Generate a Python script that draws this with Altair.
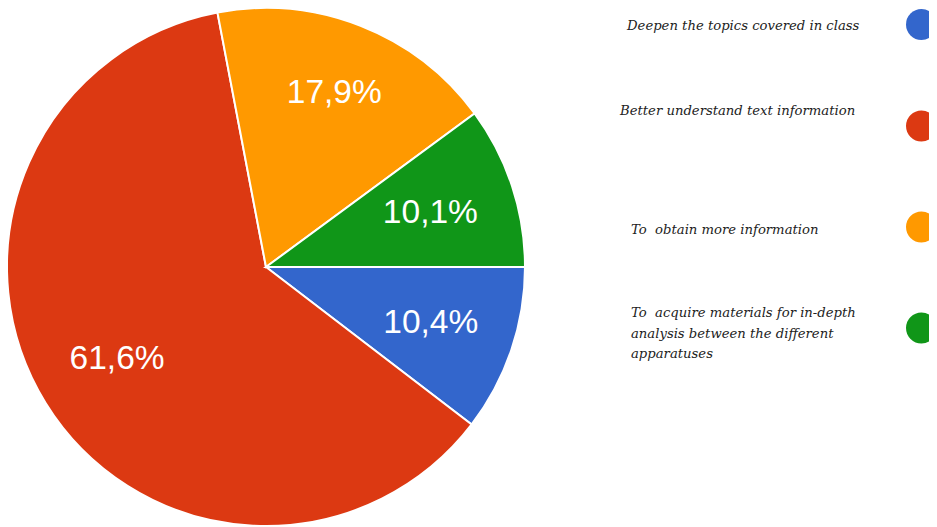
import math
import altair as alt
import pandas as pd

categories = [
    "Deepen the topics covered in class",
    "Better understand text information",
    "To\u00a0 obtain more information",
    "To\u00a0 acquire materials for in-depth\nanalysis between the different\napparatuses",
]
values = [10.4, 61.6, 17.9, 10.1]
colors = ["#3366cc", "#dc3912", "#ff9900", "#109618"]

labels = [f"{v:.1f}%".replace(".", ",") for v in values]

# layout constants
label_r = [174, 175, 187, 173]
leg_text_x = [619, 612, 623, 623]
leg_text_y = [18, 103, 222, 305]
leg_dot_x = [913.5, 913.5, 913.5, 913.5]
leg_dot_y = [16.5, 118, 219, 320]

pie_df = pd.DataFrame({
    "cat": categories,
    "value": values,
    "idx": list(range(len(values))),
    "label": labels,
    "lr": label_r,
})

leg_df = pd.DataFrame({
    "cat": categories,
    "tx": leg_text_x,
    "ty": leg_text_y,
    "dx": leg_dot_x,
    "dy": leg_dot_y,
})

color_scale = alt.Scale(domain=categories, range=colors)
theta_scale = alt.Scale(range=[math.pi / 2, math.pi / 2 + 2 * math.pi])

cx, cy, R = 258, 259, 259

base = alt.Chart(pie_df)

arcs = base.mark_arc(radius=R, stroke="white", strokeWidth=2, x=cx, y=cy).encode(
    theta=alt.Theta("value:Q", stack=True, scale=theta_scale),
    color=alt.Color("cat:N", scale=color_scale, legend=None),
    order=alt.Order("idx:Q"),
)

txt = base.mark_text(
    radius=alt.ExprRef(expr="datum.lr"),
    x=cx, y=cy, fontSize=33.5, color="white", font="Liberation Sans",
    align="center", baseline="middle",
).encode(
    theta=alt.Theta("value:Q", stack=True, scale=theta_scale),
    text="label:N",
    order=alt.Order("idx:Q"),
)

dots = alt.Chart(leg_df).mark_circle(size=960, opacity=1).encode(
    x=alt.X("dx:Q", scale=None, axis=None),
    y=alt.Y("dy:Q", scale=None, axis=None),
    color=alt.Color("cat:N", scale=color_scale, legend=None),
)

leg_txt = alt.Chart(leg_df).mark_text(
    align="left", baseline="middle", font="DejaVu Serif", fontStyle="italic",
    fontSize=13.2, color="#222222", lineBreak="\n", lineHeight=20.5,
).encode(
    x=alt.X("tx:Q", scale=None, axis=None),
    y=alt.Y("ty:Q", scale=None, axis=None),
    text="cat:N",
)

chart = alt.layer(arcs, txt, dots, leg_txt).properties(
    width=921, height=519, padding=0, autosize="none",
).configure_view(stroke=None)

chart.save("out.html", embed_options={"renderer": "svg", "actions": False})
